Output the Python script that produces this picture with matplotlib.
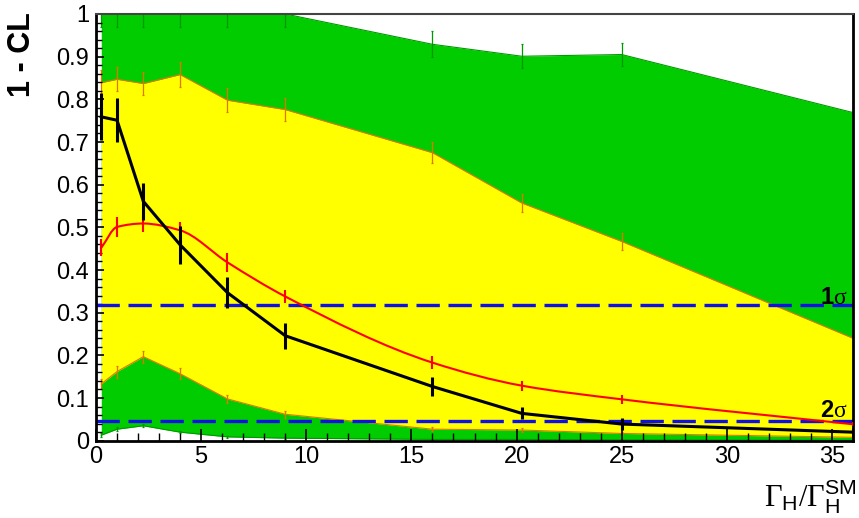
import numpy as np
import matplotlib
matplotlib.use("Agg")
import matplotlib.pyplot as plt
from matplotlib.path import Path
from matplotlib.patches import PathPatch
from matplotlib.ticker import MultipleLocator, FixedLocator, FixedFormatter

plt.rcParams['font.family'] = ['Liberation Sans', 'DejaVu Sans']
plt.rcParams['mathtext.fontset'] = 'custom'
plt.rcParams['mathtext.rm'] = 'Liberation Serif'
plt.rcParams['mathtext.it'] = 'Liberation Serif:italic'
plt.rcParams['mathtext.sf'] = 'Liberation Sans'
plt.rcParams['mathtext.bf'] = 'Liberation Sans:bold'

# Width ratio Gamma_H / Gamma_H^SM
ratio = [0.25, 1, 2.25, 4, 6.25, 9, 16, 20.25, 25, 36]

# Observed 1-CL and its uncertainty
observed = [0.759, 0.751, 0.561, 0.459, 0.347, 0.246, 0.127, 0.064, 0.039, 0.020]
observed_err = [0.055, 0.052, 0.044, 0.045, 0.036, 0.030, 0.022, 0.014, 0.014, 0.010]

# Expected (median) 1-CL and its uncertainty
expected = [0.452, 0.501, 0.509, 0.493, 0.418, 0.338, 0.183, 0.129, 0.097, 0.0385]
expected_err = [0.020, 0.023, 0.020, 0.020, 0.022, 0.016, 0.016, 0.012, 0.010, 0.005]

# +-1 sigma band edges
band1_up = [0.839, 0.847, 0.837, 0.858, 0.798, 0.776, 0.675, 0.557, 0.467, 0.240]
band1_up_err = [0.029, 0.028, 0.028, 0.030, 0.028, 0.027, 0.024, 0.021, 0.020, 0.015]
band1_lo = [0.133, 0.162, 0.197, 0.157, 0.098, 0.062, 0.027, 0.025, 0.017, 0.008]
band1_lo_err = [0.012, 0.014, 0.014, 0.013, 0.010, 0.008, 0.004, 0.004, 0.003, 0.002]

# +-2 sigma band edges
band2_up = [1.0, 1.0, 1.0, 1.0, 1.0, 1.0, 0.929, 0.901, 0.905, 0.769]
band2_up_err = [0.03, 0.03, 0.03, 0.03, 0.03, 0.03, 0.030, 0.028, 0.028, 0.025]
band2_lo = [0.013, 0.027, 0.035, 0.020, 0.009, 0.006, 0.003, 0.003, 0.002, 0.001]
band2_lo_err = [0.004, 0.004, 0.004, 0.003, 0.002, 0.002, 0.001, 0.001, 0.001, 0.001]

# Reference significance levels
one_sigma = 0.3173
two_sigma = 0.0455

x_ticks = [0, 5, 10, 15, 20, 25, 30, 35]
x_tick_labels = ["0", "5", "10", "15", "20", "25", "30", "35"]
y_ticks = [0, 0.1, 0.2, 0.3, 0.4, 0.5, 0.6, 0.7, 0.8, 0.9, 1.0]
y_tick_labels = ["0", "0.1", "0.2", "0.3", "0.4", "0.5", "0.6", "0.7", "0.8", "0.9", "1"]

GREEN = "#00cc00"
GREEN_DARK = "#009a00"
YELLOW = "#ffff00"
ORANGE = "#e07800"
RED = "#ff0000"
BLUE = "#1010e6"


def smooth_path(x, y):
    """Monotone cubic (PCHIP-style) curve through the points as Bezier segments."""
    x = np.asarray(x, float)
    y = np.asarray(y, float)
    h = np.diff(x)
    d = np.diff(y) / h
    m = np.zeros_like(y)
    for k in range(1, len(x) - 1):
        if d[k - 1] * d[k] > 0:
            w1 = 2 * h[k] + h[k - 1]
            w2 = h[k] + 2 * h[k - 1]
            m[k] = (w1 + w2) / (w1 / d[k - 1] + w2 / d[k])
    m[0] = d[0]
    m[-1] = d[-1]
    verts = [(x[0], y[0])]
    codes = [Path.MOVETO]
    for k in range(len(x) - 1):
        verts += [(x[k] + h[k] / 3, y[k] + m[k] * h[k] / 3),
                  (x[k + 1] - h[k] / 3, y[k + 1] - m[k + 1] * h[k] / 3),
                  (x[k + 1], y[k + 1])]
        codes += [Path.CURVE4] * 3
    return Path(verts, codes)


W, H = 859, 518
fig = plt.figure(figsize=(W / 100, H / 100), dpi=100)
ax = fig.add_axes([96 / W, 1 - 440.7 / H, (853 - 96) / W, (440.7 - 14) / H])

# Bands
ax.fill_between(ratio, band2_lo, band2_up, color=GREEN, lw=0, zorder=1)
ax.fill_between(ratio, band1_lo, band1_up, color=YELLOW, lw=0, zorder=1.1)
ax.plot(ratio, band2_up, color=GREEN_DARK, lw=0.8, zorder=1.2)
ax.plot(ratio, band2_lo, color=GREEN_DARK, lw=0.8, zorder=1.2)
ax.plot(ratio, band1_up, color=ORANGE, lw=0.8, zorder=1.3)
ax.plot(ratio, band1_lo, color=ORANGE, lw=0.8, zorder=1.3)
ax.errorbar(ratio, band2_up, yerr=band2_up_err, fmt='none', ecolor=GREEN_DARK,
            elinewidth=0.9, capsize=1, capthick=0.9, zorder=1.4)
ax.errorbar(ratio, band2_lo, yerr=band2_lo_err, fmt='none', ecolor=GREEN_DARK,
            elinewidth=0.9, capsize=1, capthick=0.9, zorder=1.4)
ax.errorbar(ratio, band1_up, yerr=band1_up_err, fmt='none', ecolor=ORANGE,
            elinewidth=0.9, capsize=1, capthick=0.9, zorder=1.4)
ax.errorbar(ratio, band1_lo, yerr=band1_lo_err, fmt='none', ecolor=ORANGE,
            elinewidth=0.9, capsize=1, capthick=0.9, zorder=1.4)

# Significance lines
ax.axhline(one_sigma, color=BLUE, lw=2.4, dashes=(7, 2.6), zorder=2)
ax.axhline(two_sigma, color=BLUE, lw=2.4, dashes=(7, 2.6), zorder=2)

# Expected curve (smoothed)
ax.add_patch(PathPatch(smooth_path(ratio, expected), fill=False, edgecolor=RED,
                       lw=1.5, zorder=3))
ax.errorbar(ratio, expected, yerr=expected_err, fmt='none', ecolor=RED,
            elinewidth=1.5, capsize=0, zorder=3)

# Observed curve
ax.plot(ratio, observed, color='black', lw=2.2, zorder=4, solid_joinstyle='round')
ax.errorbar(ratio, observed, yerr=observed_err, fmt='none', ecolor='black',
            elinewidth=2.2, capsize=0, zorder=4)

ax.text(35.75, 0.321, r'$\mathbf{1}\mathrm{\sigma}$', ha='right', va='baseline',
        fontsize=17, zorder=5)
ax.text(35.75, 0.055, r'$\mathbf{2}\mathrm{\sigma}$', ha='right', va='baseline',
        fontsize=17, zorder=5)

ax.set_xlim(0, 36)
ax.set_ylim(0, 1)

ax.xaxis.set_major_locator(FixedLocator(x_ticks))
ax.xaxis.set_major_formatter(FixedFormatter(x_tick_labels))
ax.xaxis.set_minor_locator(MultipleLocator(1))
ax.yaxis.set_major_locator(FixedLocator(y_ticks))
ax.yaxis.set_major_formatter(FixedFormatter(y_tick_labels))
ax.yaxis.set_minor_locator(MultipleLocator(0.02))

ax.tick_params(axis='x', which='major', direction='in', length=9, width=1.2,
               labelsize=17, pad=4, top=False)
ax.tick_params(axis='x', which='minor', direction='in', length=6, width=1.0, top=False)
ax.tick_params(axis='y', which='major', direction='in', length=6, width=1.2,
               labelsize=17, pad=5, right=False)
ax.tick_params(axis='y', which='minor', direction='in', length=4, width=1.0, right=False)

for side in ['left', 'bottom', 'right']:
    ax.spines[side].set_linewidth(2.0)
ax.spines['top'].set_linewidth(1.5)
ax.spines['top'].set_color('#444444')

fig.text(22 / W, 1 - 12 / H, '1 - CL', rotation=90, ha='center', va='top',
         fontsize=22, fontweight='bold')
fig.text(857 / W, 2 / H, r'$\mathrm{\Gamma}_{\mathsf{H}}/\mathrm{\Gamma}_{\mathsf{H}}^{\mathsf{SM}}$',
         ha='right', va='bottom', fontsize=22)

fig.savefig('out.png', dpi=100)
